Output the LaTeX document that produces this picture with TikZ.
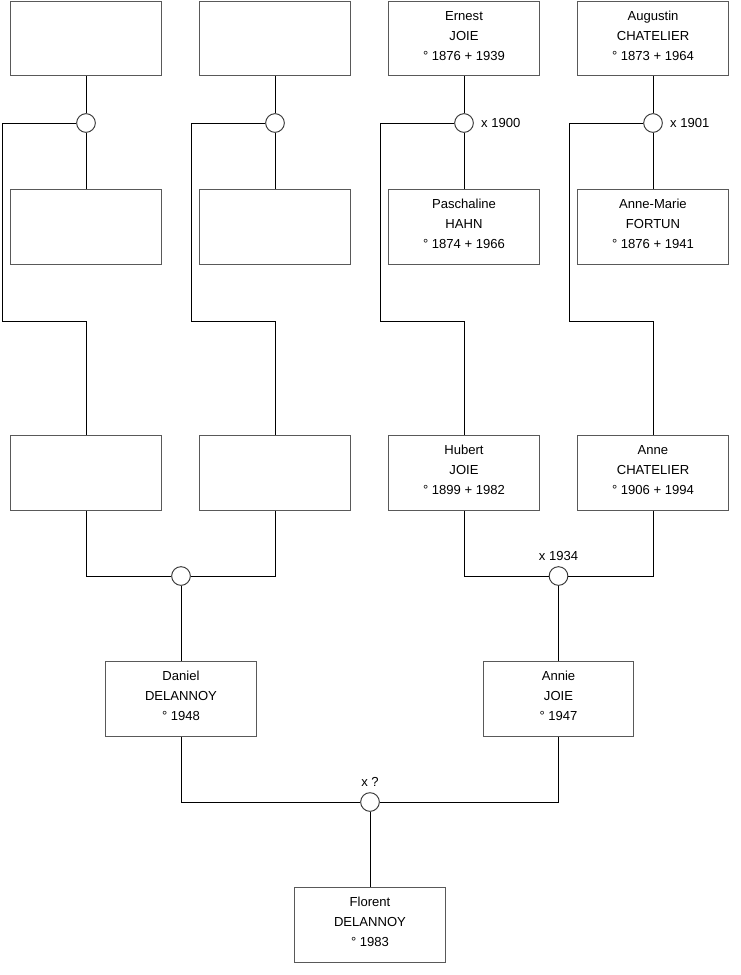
\documentclass[tikz,border=0pt]{standalone}
\usepackage{fontspec}
\setmainfont{Liberation Sans}
\usetikzlibrary{positioning}
\tikzset{
  pers/.style={draw=black!65, rectangle, minimum width=113pt, minimum height=56pt,
               inner sep=0pt, align=center, fill=white, line width=0.7pt,
               text depth=4.2pt, font=\fontsize{9.8}{15}\selectfont},
  mar/.style ={draw=black!80, circle, minimum size=14pt, inner sep=0pt,
               fill=white, line width=0.7pt},
  lnk/.style ={black, line width=0.7pt},
  lab/.style ={font=\fontsize{9.8}{11}\selectfont},
}
\begin{document}
\begin{tikzpicture}[x=0.75pt, y=-0.75pt]
  \useasboundingbox (0,0) rectangle (740,975);
  % generation 1: fathers
  \node[pers] (f1) at (86,38.5) {};
  \node[pers] (f2) at (275,38.5) {};
  \node[pers] (f3) at (464,38.5) {Ernest\\JOIE\\° 1876 + 1939};
  \node[pers] (f4) at (653,38.5) {Augustin\\CHATELIER\\° 1873 + 1964};
  % generation 1: mothers
  \node[pers] (w1) at (86,227) {};
  \node[pers] (w2) at (275,227) {};
  \node[pers] (w3) at (464,227) {Paschaline\\HAHN\\° 1874 + 1966};
  \node[pers] (w4) at (653,227) {Anne-Marie\\FORTUN\\° 1876 + 1941};
  % generation 1: marriages
  \node[mar] (m1) at (86,123) {};
  \node[mar] (m2) at (275,123) {};
  \node[mar] (m3) at (464,123) {};
  \node[mar] (m4) at (653,123) {};
  \node[lab, right=2pt of m3] {x 1900};
  \node[lab, right=2pt of m4] {x 1901};
  % generation 2
  \node[pers] (c1) at (86,473) {};
  \node[pers] (c2) at (275,473) {};
  \node[pers] (c3) at (464,473) {Hubert\\JOIE\\° 1899 + 1982};
  \node[pers] (c4) at (653,473) {Anne\\CHATELIER\\° 1906 + 1994};
  % elbow points of the child lines
  \coordinate (k1) at (2,321);
  \coordinate (k2) at (191,321);
  \coordinate (k3) at (380,321);
  \coordinate (k4) at (569,321);
  % generation 2: marriages
  \node[mar] (m5) at (181,576) {};
  \node[mar] (m6) at (558.5,576) {};
  \node[lab, above=1pt of m6] {x 1934};
  % generation 3
  \node[pers] (daniel) at (181,699) {Daniel\\DELANNOY\\° 1948};
  \node[pers] (annie) at (558.5,699) {Annie\\JOIE\\° 1947};
  \node[mar] (m7) at (370,802) {};
  \node[lab, above=1pt of m7] {x ?};
  % generation 4
  \node[pers] (florent) at (370,925) {Florent\\DELANNOY\\° 1983};
  % links
  \foreach \i in {1,2,3,4}{
    \draw[lnk] (f\i.south) -- (m\i.north);
    \draw[lnk] (m\i.south) -- (w\i.north);
    \draw[lnk] (m\i.west) -| (k\i) -| (c\i.north);
  }
  \draw[lnk] (c1.south) |- (m5.west);
  \draw[lnk] (c2.south) |- (m5.east);
  \draw[lnk] (c3.south) |- (m6.west);
  \draw[lnk] (c4.south) |- (m6.east);
  \draw[lnk] (m5.south) -- (daniel.north);
  \draw[lnk] (m6.south) -- (annie.north);
  \draw[lnk] (daniel.south) |- (m7.west);
  \draw[lnk] (annie.south) |- (m7.east);
  \draw[lnk] (m7.south) -- (florent.north);
\end{tikzpicture}
\end{document}
